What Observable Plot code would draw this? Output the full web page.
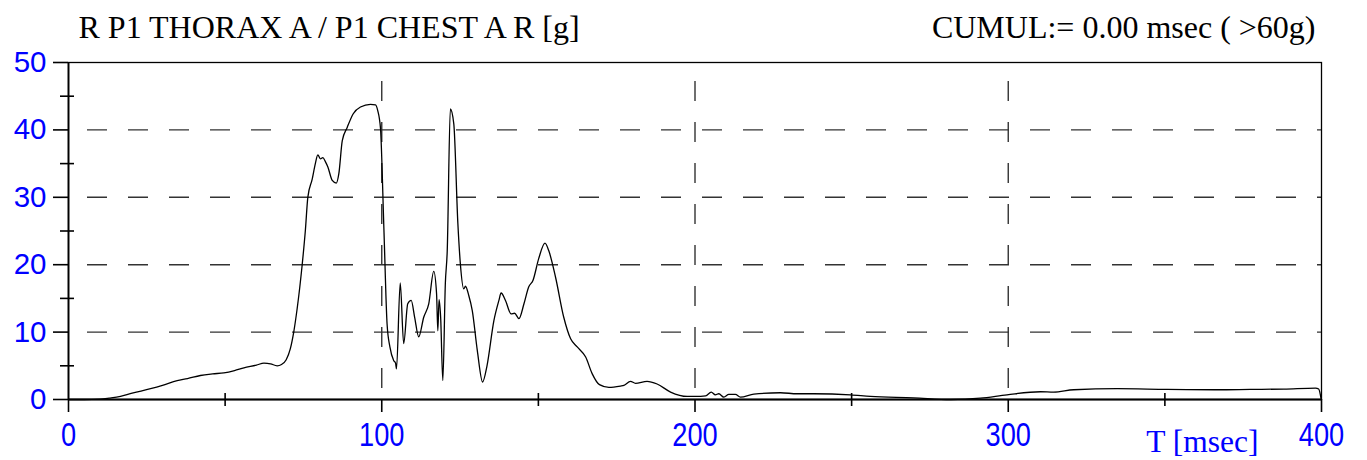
<!DOCTYPE html>
<html>
<head>
<meta charset="utf-8">
<script src="https://cdn.jsdelivr.net/npm/d3@7"></script>
<script src="https://cdn.jsdelivr.net/npm/@observablehq/plot@0.6"></script>
<style>
  html, body { margin: 0; padding: 0; background: #fff; }
  #chart svg { display: block; background: #fff; }
</style>
</head>
<body>
<div id="chart"></div>
<script>
const titleLeft = "R P1 THORAX A / P1 CHEST A R [g]";
const titleRight = "CUMUL:= 0.00 msec ( >60g)";
const xAxisTitle = "T [msec]";

const xLabelTicks = [0, 100, 200, 300, 400];
const xMinorTicks = [50, 150, 250, 350];
const yLabelTicks = [0, 10, 20, 30, 40, 50];
const yMinorTicks = [5, 15, 25, 35, 45];
const yGrid = [10, 20, 30, 40];
const xGrid = [100, 200, 300];

const timeMs = [
  0, 5, 10, 13, 16.6, 20, 26.2, 30, 34.7, 38, 42.1, 46, 49.6, 53, 56, 60, 62.4, 64.5, 66.6, 68,
  69.5, 70.8, 71.9, 73, 74.6, 75.6, 76.4, 77.8, 78.8, 79.6, 80.4, 81.2, 82.0, 82.8, 84.2, 85.5,
  86.3, 87.4, 89.0, 90.9, 93.2, 96.4, 98.0, 98.7, 99.6, 100.7, 101.7, 102.6, 103.8, 104.4, 104.7,
  105.9, 107.0, 108.3, 109.4, 110.5, 111.8, 113.4, 115.0, 116.6, 117.5, 117.9, 118.3, 118.8, 119.5,
  120.3, 120.9, 121.9, 123.0, 124.3, 125.1, 126.2, 126.7, 127.8, 128.9, 130.5, 132.2, 133.6,
  135.8, 137.4, 138.1, 139.5, 141.3, 142.4, 143.8, 145.4, 146.9, 148.3, 150.1, 152.1, 153.3,
  155.5, 158.1, 160.3, 162.4, 165.1, 167.2, 169.5, 172.5, 176.2, 177.3, 179.4, 181.0, 184.7,
  187.9, 192.2, 197.5, 200.2, 203.4, 205.2, 206.5, 207.6, 209.2, 210.8, 212.9, 214.5, 218.8,
  227.3, 232.6, 237.9, 249.6, 256, 269.8, 281.6, 291.1, 299.6, 310.3, 314.5, 320.9, 334.8,
  350.7, 366.7, 377.3, 388, 398.1, 399.1, 399.9
];
const accelG = [
  0, 0, 0.05, 0.2, 0.45, 0.9, 1.6, 2.1, 2.8, 3.1, 3.56, 3.8, 3.96, 4.3, 4.7, 5.1, 5.4, 5.3, 5.0, 5.2,
  5.9, 7.5, 10.0, 13.5, 20.0, 25, 30.0, 32.7, 35, 36.3, 35.7, 35.9, 35.3, 34.5, 32.5, 32.1,
  33.5, 38.4, 40.4, 42.4, 43.4, 43.8, 43.7, 42.9, 40.2, 25.1, 11.2, 7.8, 5.8, 5.4, 4.55,
  17.3, 8.3, 14.2, 14.7, 12.2, 9.3, 12.2, 14.2, 19.0, 15.7, 10.2, 14.8, 12.2, 2.8,
  17.2, 22, 43.1, 40.9, 26.1, 20.1, 16.4, 16.8, 15.4, 13.2, 7.3, 2.6, 5.0,
  11.7, 14.7, 15.8, 14.7, 12.7, 12.8, 12.0, 14.2, 16.7, 17.7, 20.9, 23.2, 22.1,
  18.1, 12.2, 9.0, 7.8, 6.3, 3.8, 2.2, 1.8, 2.0, 2.1, 2.7, 2.4, 2.7,
  2.3, 1.1, 0.45, 0.45, 0.55, 1.1, 0.7, 0.85, 0.35, 0.75, 0.75, 0.35, 0.8,
  1.0, 0.85, 0.85, 0.7, 0.45, 0.25, 0.0, 0.2, 0.7, 1.15, 1.1, 1.45, 1.6,
  1.5, 1.45, 1.5, 1.55, 1.7, 1.55, 0
];

const series = timeMs.map((t, i) => ({t, g: accelG[i]}));

const serif = "'Liberation Serif', 'Times New Roman', Times, serif";
const sans = "'Liberation Sans', Arial, Helvetica, sans-serif";
const blue = "#0000ff";
const dash = {stroke: "#333", strokeWidth: 1.4, strokeDasharray: "20,21", strokeDashoffset: 22};

const chart = Plot.plot({
  width: 1367,
  height: 460,
  marginLeft: 68,
  marginRight: 46,
  marginTop: 62,
  marginBottom: 61,
  style: {background: "#fff"},
  x: {domain: [0, 400]},
  y: {domain: [0, 50]},
  marks: [
    Plot.ruleY(yGrid, dash),
    Plot.ruleX(xGrid, dash),
    Plot.frame({stroke: "#000", strokeWidth: 1.3}),
    Plot.ruleY([0], {stroke: "#000", strokeWidth: 2.2}),
    Plot.ruleX([0], {stroke: "#000", strokeWidth: 1.8}),
    Plot.axisY(yLabelTicks, {tickSize: 15, tickPadding: 7, stroke: "#000", strokeWidth: 1.6, fill: blue, fontSize: 29.5, fontFamily: sans, label: null}),
    Plot.axisY(yMinorTicks, {tickSize: 14, dx: 6, stroke: "#000", strokeWidth: 1.6, tickFormat: () => "", label: null}),
    Plot.axisX(xMinorTicks, {tickSize: 13, dy: -6, stroke: "#000", strokeWidth: 1.6, tickFormat: () => "", label: null}),
    Plot.axisX(xLabelTicks, {tickSize: 13, tickPadding: 9, stroke: "#000", strokeWidth: 1.6, fill: blue, fontSize: 34, fontFamily: sans, label: null}),
    Plot.line(series, {x: "t", y: "g", curve: "monotone-x", stroke: "#000", strokeWidth: 1.3}),
    Plot.text([titleLeft], {text: d => d, frameAnchor: "top-left", dx: 10, dy: -25, lineAnchor: "bottom", textAnchor: "start", fontSize: 32, fontFamily: serif, fill: "#000"}),
    Plot.text([titleRight], {text: d => d, frameAnchor: "top-right", dx: -6, dy: -25, lineAnchor: "bottom", textAnchor: "end", fontSize: 32, fontFamily: serif, fill: "#000"}),
    Plot.text([xAxisTitle], {text: d => d, frameAnchor: "bottom-right", dx: -63, dy: 52, lineAnchor: "bottom", textAnchor: "end", fontSize: 31.5, fontFamily: serif, fill: blue})
  ]
});

document.getElementById("chart").appendChild(chart);

// condense x tick labels horizontally like the reference
chart.querySelectorAll('g[aria-label="x-axis tick label"] text').forEach(t => {
  const tr = t.getAttribute("transform");
  if (tr) t.setAttribute("transform", tr + " scale(0.8,1)");
});
</script>
</body>
</html>
